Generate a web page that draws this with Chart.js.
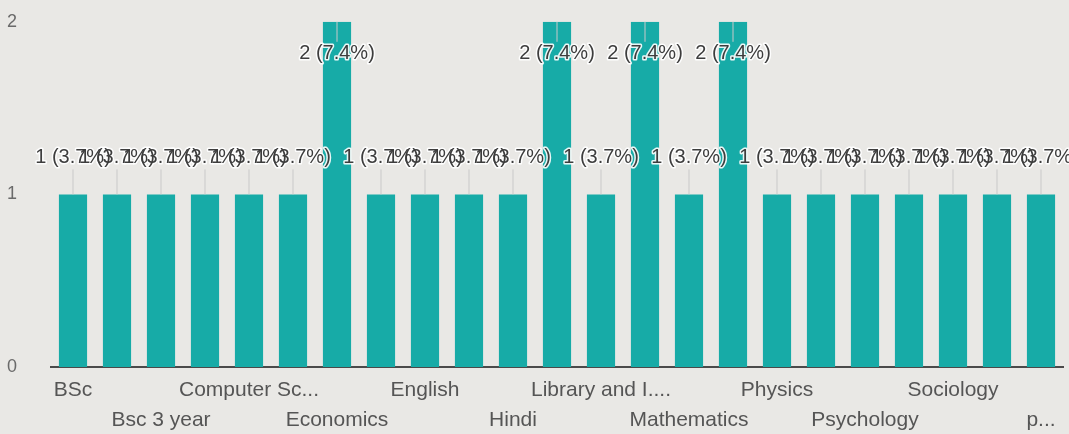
<!DOCTYPE html>
<html>
<head>
<meta charset="utf-8">
<script src="https://cdn.jsdelivr.net/npm/chart.js@4/dist/chart.umd.min.js"></script>
<style>
  html, body { margin: 0; padding: 0; background: #e9e8e5; overflow: hidden; }
  #wrap { width: 1069px; height: 449px; margin-top: -15px; }
</style>
</head>
<body>
<div id="wrap"><canvas id="chart"></canvas></div>
<script>
// categories as they sit on the x axis (only every other one is printed)
const categories = [
  "BSc", "Bsc 2 year", "Bsc 3 year", "Commerce", "Computer Sc...", "Computer science",
  "Economics", "Education", "English", "Geography", "Hindi", "History",
  "Library and I....", "M.Sc", "Mathematics", "Maths", "Physics", "Political Science",
  "Psychology", "Sanskrit", "Sociology", "Zoology", "p..."
];
const counts = [1, 1, 1, 1, 1, 1, 2, 1, 1, 1, 1, 2, 1, 2, 1, 2, 1, 1, 1, 1, 1, 1, 1];
const yTicks = [0, 1, 2];

const total = counts.reduce((a, b) => a + b, 0);
const barColor = "#17aba7";

// value labels with a leader line, drawn over each other like the original
const valueLabels = {
  id: "valueLabels",
  afterDatasetsDraw(chart) {
    const ctx = chart.ctx;
    const bars = chart.getDatasetMeta(0).data;
    const spots = bars.map((bar, i) => {
      let ly = bar.y - 37;
      if (ly < 45) ly = bar.y + 32;
      return { x: bar.x, top: bar.y, ly: ly, text: counts[i] + " (" + (counts[i] / total * 100).toFixed(1) + "%)" };
    });
    ctx.save();
    ctx.font = "20px 'Liberation Sans', Arial, sans-serif";
    ctx.textAlign = "center";
    ctx.textBaseline = "middle";
    // leader lines
    ctx.strokeStyle = "#c9c9c9";
    ctx.lineWidth = 1;
    spots.forEach(s => {
      ctx.beginPath();
      if (s.ly > s.top) {
        ctx.moveTo(s.x, s.top);
        ctx.lineTo(s.x, s.ly - 12);
      } else {
        ctx.moveTo(s.x, s.ly + 12);
        ctx.lineTo(s.x, s.top);
      }
      ctx.stroke();
    });
    // halos, then text
    ctx.strokeStyle = "rgba(255,255,255,0.9)";
    ctx.lineWidth = 3;
    ctx.lineJoin = "round";
    spots.forEach(s => ctx.strokeText(s.text, s.x, s.ly));
    ctx.fillStyle = "#3d3d3d";
    spots.forEach(s => ctx.fillText(s.text, s.x, s.ly));
    ctx.restore();
  }
};

new Chart(document.getElementById("chart"), {
  type: "bar",
  data: {
    labels: categories,
    datasets: [{
      data: counts,
      backgroundColor: barColor,
      borderWidth: 0,
      barPercentage: 0.64,
      categoryPercentage: 1.0
    }]
  },
  options: {
    responsive: true,
    maintainAspectRatio: false,
    animation: false,
    layout: { padding: { top: 2, right: 6, left: 0, bottom: 0 } },
    plugins: {
      legend: { display: false },
      tooltip: { enabled: false }
    },
    scales: {
      x: {
        grid: { display: false },
        border: { display: true, color: "#4a4a4a", width: 2 },
        ticks: {
          autoSkip: false,
          maxRotation: 0,
          minRotation: 0,
          padding: 0,
          color: "#555",
          font: { family: "'Liberation Sans', Arial, sans-serif", size: 21, lineHeight: 1.43 },
          callback: function (value, index) {
            if (index % 2 === 1) return "";
            const name = categories[index];
            return index % 4 === 0 ? [name] : ["", name];
          }
        },
        afterFit(scale) { scale.height = 67; }
      },
      y: {
        min: 0,
        max: 2,
        grid: { display: false },
        border: { display: false },
        afterBuildTicks(scale) { scale.ticks = yTicks.map(v => ({ value: v })); },
        ticks: {
          padding: 26,
          color: "#6a6a6a",
          font: { family: "'Liberation Sans', Arial, sans-serif", size: 18 }
        },
        afterFit(scale) { scale.width = 51; }
      }
    }
  },
  plugins: [valueLabels]
});
</script>
</body>
</html>
